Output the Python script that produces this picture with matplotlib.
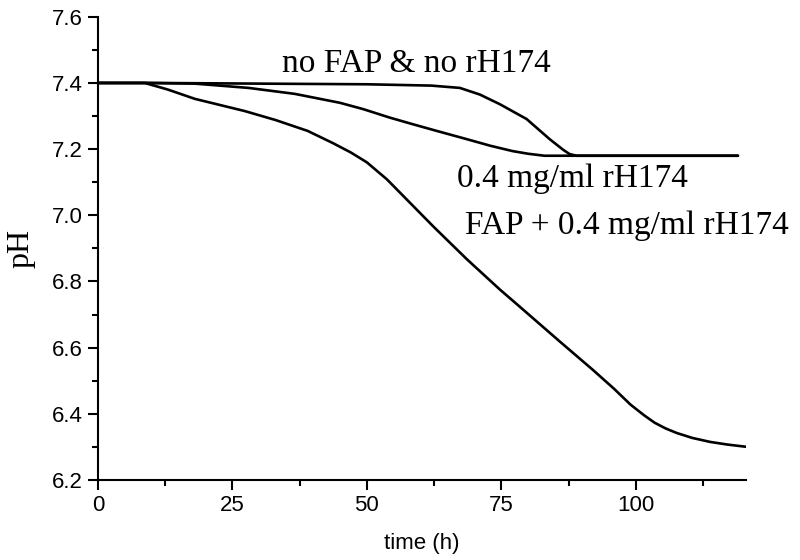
import numpy as np
import matplotlib
matplotlib.use("Agg")
import matplotlib.pyplot as plt
from matplotlib.ticker import MultipleLocator

# no FAP & no rH174
t_ctrl = [0, 10, 30, 50, 62, 67.3, 71, 74.7, 79.7, 84, 86.5, 87.7, 89, 100, 119]
ph_ctrl = [7.40, 7.40, 7.398, 7.396, 7.392, 7.385, 7.365, 7.336, 7.291, 7.23, 7.198, 7.185, 7.18, 7.18, 7.18]

# 0.4 mg/ml rH174
t_rh = [0, 9, 18, 28, 36.6, 45, 49.3, 54.3, 58.6, 63, 68.6, 73, 77.1, 80, 83, 90, 119]
ph_rh = [7.40, 7.40, 7.398, 7.385, 7.367, 7.34, 7.321, 7.295, 7.275, 7.255, 7.23, 7.21, 7.194, 7.186, 7.18, 7.18, 7.18]

# FAP + 0.4 mg/ml rH174
t_fap = [0, 8.7, 13, 18, 27.3, 33, 39, 43.7, 47, 50, 53.7, 57.4, 62.3, 68.6, 74.7, 78.4, 85.9, 92,
         96, 99, 101.5, 103.5, 105.5, 107.6, 110.5, 113.8, 117, 120.6]
ph_fap = [7.40, 7.40, 7.38, 7.352, 7.315, 7.288, 7.255, 7.218, 7.19, 7.16, 7.109, 7.048, 6.967, 6.867,
          6.776, 6.724, 6.618, 6.533, 6.475, 6.428, 6.396, 6.373, 6.356, 6.342, 6.327, 6.315, 6.307, 6.30]

xticks = [0, 25, 50, 75, 100]
yticks = [6.2, 6.4, 6.6, 6.8, 7.0, 7.2, 7.4, 7.6]

fig = plt.figure(figsize=(8, 5.6), dpi=100)
ax = fig.add_axes([0.1225, 0.143, 0.81, 0.827])

for t, ph in [(t_ctrl, ph_ctrl), (t_rh, ph_rh), (t_fap, ph_fap)]:
    ax.plot(t, ph, color="black", lw=1.9, solid_capstyle="round", solid_joinstyle="round")

ax.set_xlim(0, 120.5)
ax.set_ylim(6.2, 7.6)
ax.set_xticks(xticks)
ax.set_yticks(yticks)
ax.set_yticklabels([f"{v:.1f}" for v in yticks])
ax.xaxis.set_minor_locator(MultipleLocator(12.5))
ax.yaxis.set_minor_locator(MultipleLocator(0.1))

for s in ["top", "right"]:
    ax.spines[s].set_visible(False)
for s in ["left", "bottom"]:
    ax.spines[s].set_linewidth(1.5)

ax.tick_params(which="major", direction="out", length=7, width=1.5,
               labelsize=16, pad=4)
ax.tick_params(which="minor", direction="out", length=4, width=1.5)
for lbl in ax.get_xticklabels() + ax.get_yticklabels():
    lbl.set_fontfamily("Liberation Sans")

ax.set_xlabel("time (h)", fontsize=16, family="Liberation Sans", labelpad=12)
ax.set_ylabel("pH", fontsize=23, family="Liberation Serif", labelpad=12)

serif = dict(fontsize=24, family="Liberation Serif", va="center", ha="left")
ax.text(34.2, 7.458, "no FAP & no rH174", **serif)
ax.text(66.7, 7.109, "0.4 mg/ml rH174", **serif)
ax.text(68.2, 6.967, "FAP + 0.4 mg/ml rH174", **serif)

fig.savefig("out.png", dpi=100)
